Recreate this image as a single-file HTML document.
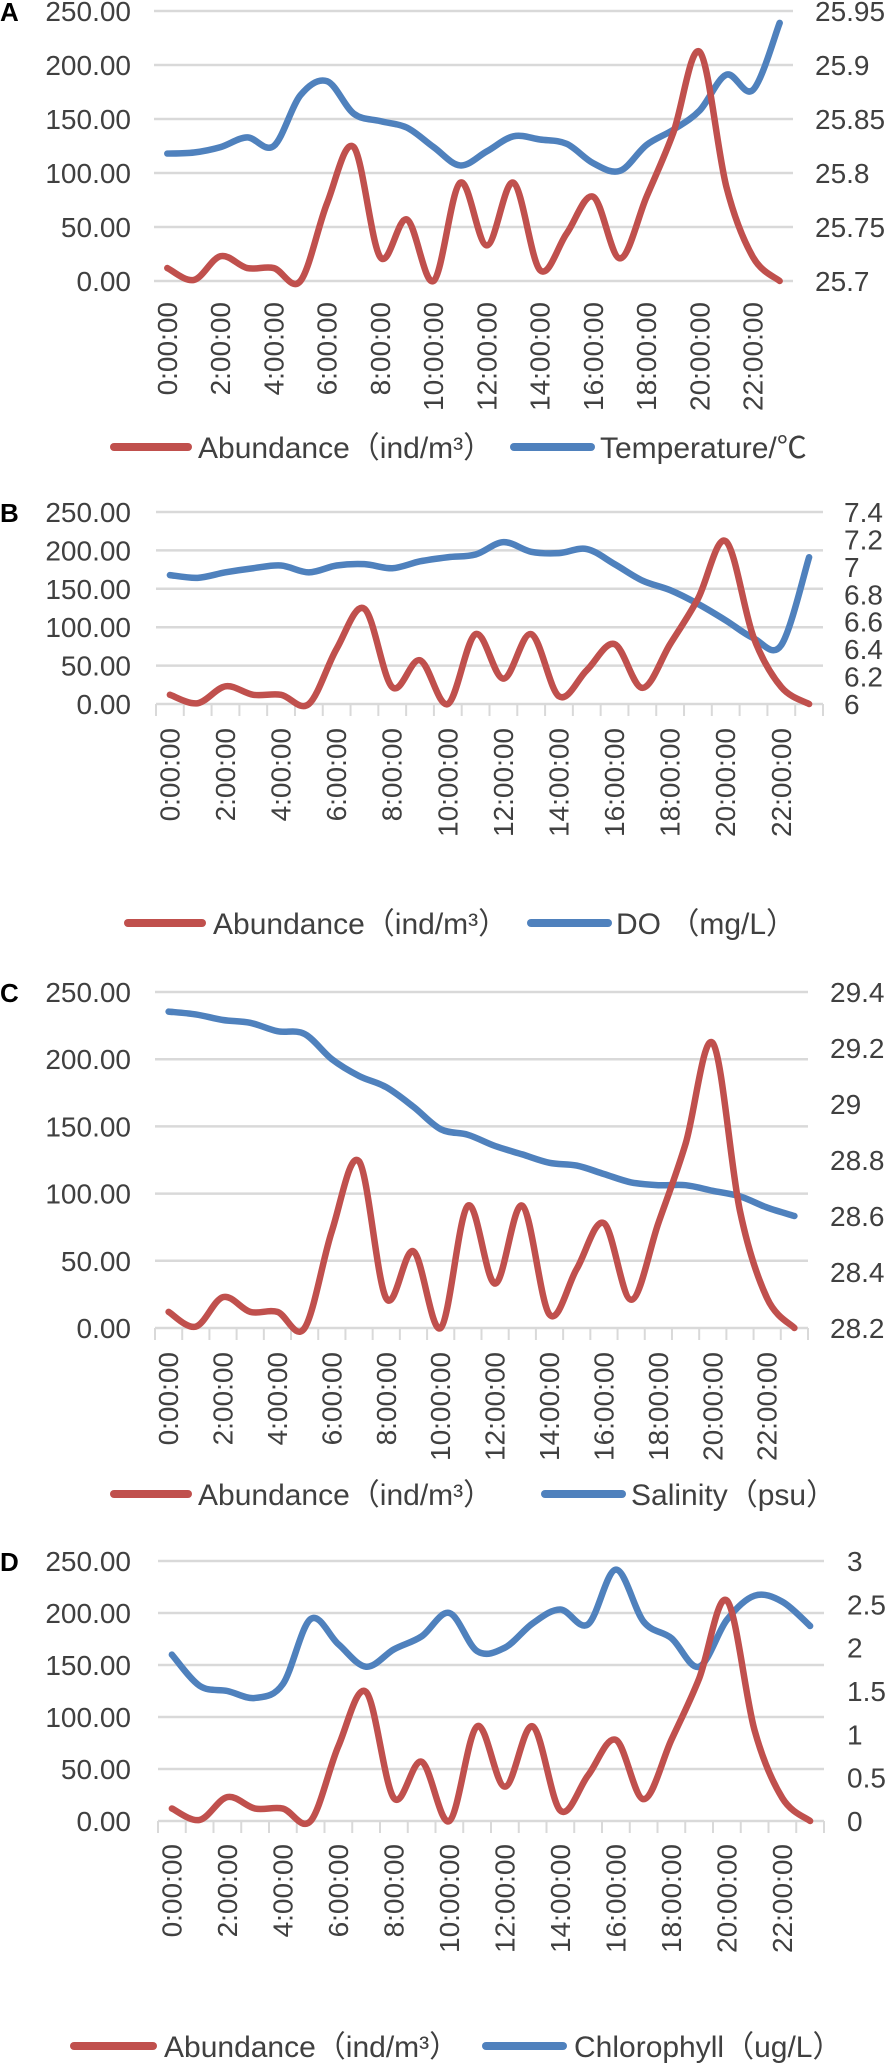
<!DOCTYPE html>
<html><head><meta charset="utf-8"><style>
html,body{margin:0;padding:0;background:#fff;}
svg{display:block;font-family:"Liberation Sans","Noto Sans CJK SC",sans-serif;}
</style></head><body>
<svg id="chart" width="886" height="2065" viewBox="0 0 886 2065" xmlns="http://www.w3.org/2000/svg"></svg>
<script>
// ---- data ----
const hours = ["0:00:00","1:00:00","2:00:00","3:00:00","4:00:00","5:00:00","6:00:00","7:00:00","8:00:00","9:00:00","10:00:00","11:00:00","12:00:00","13:00:00","14:00:00","15:00:00","16:00:00","17:00:00","18:00:00","19:00:00","20:00:00","21:00:00","22:00:00","23:00:00"];
const abundance = [12,1,23,12,12,0,72,124,22,57,0,91,33,91,10,44,78,21,78,137,212,87,22,0];
const temperature = [25.818,25.819,25.824,25.833,25.825,25.872,25.885,25.855,25.848,25.842,25.824,25.807,25.820,25.834,25.831,25.827,25.809,25.802,25.826,25.840,25.858,25.891,25.877,25.939];
const dissolvedOxygen = [6.94,6.92,6.96,6.99,7.01,6.96,7.01,7.02,6.99,7.04,7.07,7.09,7.18,7.11,7.10,7.13,7.02,6.90,6.83,6.73,6.61,6.48,6.43,7.07];
const salinity = [29.33,29.32,29.30,29.29,29.26,29.25,29.16,29.10,29.06,28.99,28.91,28.89,28.85,28.82,28.79,28.78,28.75,28.72,28.71,28.71,28.69,28.67,28.63,28.60];
const chlorophyll = [1.92,1.56,1.50,1.42,1.58,2.33,2.04,1.78,1.98,2.13,2.40,1.96,2.00,2.28,2.44,2.27,2.90,2.30,2.11,1.78,2.32,2.60,2.53,2.25];
const leftTicks = [0,50,100,150,200,250];
const leftTickLabels = ["0.00","50.00","100.00","150.00","200.00","250.00"];
const tempTicks = [25.7,25.75,25.8,25.85,25.9,25.95];
const tempTickLabels = ["25.7","25.75","25.8","25.85","25.9","25.95"];
const doTicks = [6,6.2,6.4,6.6,6.8,7,7.2,7.4];
const doTickLabels = ["6","6.2","6.4","6.6","6.8","7","7.2","7.4"];
const salTicks = [28.2,28.4,28.6,28.8,29,29.2,29.4];
const salTickLabels = ["28.2","28.4","28.6","28.8","29","29.2","29.4"];
const chlTicks = [0,0.5,1,1.5,2,2.5,3];
const chlTickLabels = ["0","0.5","1","1.5","2","2.5","3"];

// ---- layout ----
const panels = [
 {id:"a",letter:"A",left:154,right:793,top:11,bottom:281,rmin:25.7,rmax:25.95,rt:tempTicks,rl:tempTickLabels,rx:815,ticks:false,xl:302,ly:447,
  l1:[114,188,198],l2:[514,591,600],name2:"Temperature/℃",series:temperature},
 {id:"b",letter:"B",left:156,right:823,top:512,bottom:704,rmin:6,rmax:7.4,rt:doTicks,rl:doTickLabels,rx:844,ticks:true,xl:728,ly:923,
  l1:[128,202,213],l2:[531,608,616],name2:"DO （mg/L）",series:dissolvedOxygen},
 {id:"c",letter:"C",left:155,right:808,top:992,bottom:1328,rmin:28.2,rmax:29.4,rt:salTicks,rl:salTickLabels,rx:830,ticks:true,xl:1352,ly:1494,
  l1:[114,188,198],l2:[545,622,631],name2:"Salinity（psu）",series:salinity},
 {id:"d",letter:"D",left:158,right:824,top:1561,bottom:1821,rmin:0,rmax:3,rt:chlTicks,rl:chlTickLabels,rx:847,ticks:true,xl:1844,ly:2046,
  l1:[74,153,164],l2:[486,563,574],name2:"Chlorophyll（ug/L）",series:chlorophyll}
];
const RED="#C0504D", BLUE="#4F81BD", NS="http://www.w3.org/2000/svg";
const svg=document.getElementById("chart");
function mk(tag,attrs,parent){const e=document.createElementNS(NS,tag);for(const k in attrs)e.setAttribute(k,attrs[k]);(parent||svg).appendChild(e);return e;}
function smooth(pts){let d="M"+pts[0][0]+","+pts[0][1];for(let i=0;i<pts.length-1;i++){const p0=pts[Math.max(0,i-1)],p1=pts[i],p2=pts[i+1],p3=pts[Math.min(pts.length-1,i+2)];const t=1/6;
 d+=" C"+(p1[0]+(p2[0]-p0[0])*t)+","+(p1[1]+(p2[1]-p0[1])*t)+" "+(p2[0]-(p3[0]-p1[0])*t)+","+(p2[1]-(p3[1]-p1[1])*t)+" "+p2[0]+","+p2[1];}return d;}

panels.forEach(p=>{
 const g=mk("g",{});
 
 
 const n=hours.length, bw=(p.right-p.left)/n;
 const x=i=>p.left+bw*(i+0.5);
 const yL=v=>p.bottom-(v-0)/(250-0)*(p.bottom-p.top);
 const yR=v=>p.bottom-(v-p.rmin)/(p.rmax-p.rmin)*(p.bottom-p.top);
 const let_=mk("text",{x:0,y:p.top+10,"font-size":26,"font-weight":"bold",fill:"#000"},g);let_.textContent=p.letter;
 
 
 leftTicks.forEach((v,i)=>{
  const ln=mk("line",{x1:p.left,x2:p.right,y1:yL(v),y2:yL(v),stroke:"#D9D9D9","stroke-width":2.5},g);
  
  
  const t=mk("text",{x:131,y:yL(v)+10,"font-size":28,"text-anchor":"end",fill:"#404040"},g);t.textContent=leftTickLabels[i];
  
  
 });
 p.rt.forEach((v,i)=>{
  const t=mk("text",{x:p.rx,y:yR(v)+10,"font-size":28,fill:"#404040"},g);t.textContent=p.rl[i];
  
  
 });
 if(p.ticks){for(let i=0;i<=n;i++){const tk=mk("line",{x1:p.left+bw*i,x2:p.left+bw*i,y1:p.bottom,y2:p.bottom+12,stroke:"#D9D9D9","stroke-width":2},g);
  
  }}
 hours.forEach((h,i)=>{if(i%2)return;
  const t=mk("text",{x:x(i),y:p.xl,"font-size":28,"text-anchor":"end","dominant-baseline":"central",fill:"#404040",transform:"rotate(-90 "+x(i)+" "+p.xl+")"},g);t.textContent=h;
  
  
 });
 const s2=mk("path",{d:smooth(p.series.map((v,i)=>[x(i),yR(v)])),fill:"none",stroke:BLUE,"stroke-width":6.5,"stroke-linejoin":"round","stroke-linecap":"round"},g);
 
 
 const s1=mk("path",{d:smooth(abundance.map((v,i)=>[x(i),yL(v)])),fill:"none",stroke:RED,"stroke-width":6.5,"stroke-linejoin":"round","stroke-linecap":"round"},g);
 
 
 [[p.l1,RED,"Abundance（ind/m³）"],[p.l2,BLUE,p.name2]].forEach(([l,c,name])=>{
  const lg=mk("g",{},g);
  
  
  mk("line",{x1:l[0],x2:l[1],y1:p.ly,y2:p.ly,stroke:c,"stroke-width":8,"stroke-linecap":"round"},lg);
  const t=mk("text",{x:l[2],y:p.ly+11,"font-size":30,fill:"#404040"},lg);t.textContent=name;
 });
});
</script>
</body></html>
